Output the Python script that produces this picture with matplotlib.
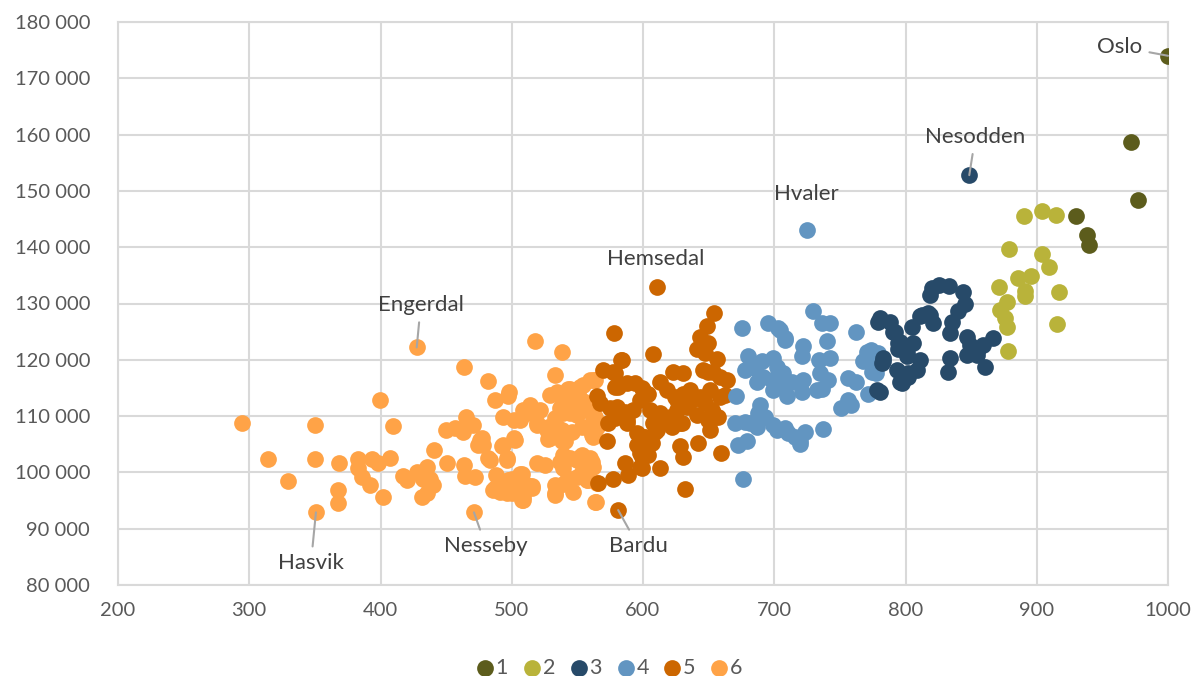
import matplotlib
matplotlib.use("Agg")
import matplotlib.pyplot as plt
from matplotlib.ticker import FuncFormatter, MultipleLocator

plt.rcParams['font.family'] = ['Lato', 'DejaVu Sans']

# group 1 (Oslo first)
x1 = [1000, 971.6, 976.9, 929.7, 938.5, 939.5]
y1 = [174000, 158700, 148400, 145500, 142200, 140400]

# group 2
x2 = [890.4, 903.7, 914.7, 879.2, 904, 909.3, 871.2, 885.6, 895.6, 891, 891, 877.2, 872,
      875.9, 877.5, 916.7, 915.6, 878.2]
y2 = [145500, 146400, 145700, 139650, 138800, 136450, 132950, 134500, 134900, 132300, 131250,
      130300, 128800, 127500, 125750, 132100, 126350, 121600]

# group 3 (Nesodden first)
x3 = [848.6, 820, 825.8, 833.4, 818.7, 844, 845.3, 840.2, 835.1, 833.9, 812.3, 818.7, 821.1,
      804.6, 780.6, 788.2, 792, 795.8, 805.9, 794.5, 800.9, 811, 783.1, 781.8, 793.2, 808.4,
      797, 802, 780.6, 846.6, 849.1, 855.5, 859.3, 866.4, 846.6, 854.2, 860.6, 833.9, 832.6,
      794.4, 800.9, 783.1, 779.3, 778, 811, 817.3, 790.7, 795.8, 802.1]
y3 = [152800, 132700, 133300, 133100, 131500, 132100, 130000, 128600, 126800, 124700, 128000,
      128000, 126500, 125900, 127400, 126800, 125000, 123200, 122900, 122000, 120600, 120000,
      120300, 119400, 118200, 118200, 115800, 117000, 114300, 124100, 122600, 122000, 122600,
      123800, 120900, 120900, 118800, 120300, 117900, 122900, 121200, 119700, 126800, 114600,
      127700, 128300, 125000, 116100, 117600]

# group 4 (Hvaler first)
x4 = [724.6, 675.2, 695.4, 703, 708.2, 729.3, 736.1, 742.5, 739.9, 721.6, 720.8, 762.2, 770.4,
      767.8, 774.2, 771.6, 742.5, 734.3, 734.8, 741.2, 732.3, 736.1, 756.3, 762.6, 756.3, 751.2,
      758.8, 680.2, 677.7, 685.3, 690.4, 699.2, 701.8, 686.6, 691.6, 698, 704.4, 706.8, 699.2,
      709.4, 713.2, 722.1, 720.8, 670.9, 689.1, 687.8, 692.9, 670.1, 677.7, 681.5, 686.6, 699.2,
      701.8, 708.2, 710.7, 715.8, 719.6, 723.4, 737.3, 672.5, 678.9, 719.6, 676.4, 773.7, 772.4,
      778.7, 777.4, 704.4, 708.2]
y4 = [143000, 125600, 126500, 125600, 123600, 128700, 126500, 126500, 123400, 122500, 120600,
      125000, 121400, 119700, 117900, 113900, 120300, 120000, 117600, 116500, 114600, 114900,
      116700, 116100, 112900, 111400, 112000, 120600, 118200, 118500, 119700, 120300, 118800,
      116100, 117000, 116400, 115800, 117600, 114600, 113600, 116100, 116400, 114300, 113600,
      112000, 110500, 109900, 108700, 109000, 108700, 108100, 108400, 107500, 107800, 107000,
      106300, 105500, 107200, 107700, 104900, 105500, 105000, 98800, 121700, 119700, 121200,
      117600, 125300, 123800]

# group 5 (Hemsedal, Bardu first)
x5 = [611, 581.1, 577.9, 607.3, 654.1, 649, 643.4, 649.8, 640.8, 647.1, 656.1, 649.8, 658.7,
      663.8, 623, 630.7, 613, 583.7, 569.7, 577.3, 564.6, 567.2, 578.6, 587.5, 593.9, 600.2,
      604, 597.7, 592.6, 587.5, 578.6, 574.9, 605.3, 613, 607.9, 615.5, 620.6, 625.7, 618,
      624.4, 630.7, 635.8, 637.1, 643.4, 647.2, 651, 653.6, 657.4, 649.8, 651, 633.3, 628.2,
      572.3, 595.2, 595.2, 600.2, 605.3, 610.4, 598.9, 597.7, 586.3, 588.8, 577.4, 613, 628.2,
      630.7, 642.1, 659.1, 632, 565.9, 581.1, 599, 602.7, 579.9, 586.3, 573.6, 587.5, 601.5,
      606.6, 609.2, 597.7, 604, 598.9, 646, 653.6, 658.7, 662.5, 652.3, 654.8, 640.9, 625.6,
      629.4, 621.8, 583, 578.6]
y5 = [133000, 93300, 124800, 121000, 128400, 126000, 124100, 122900, 122000, 121200, 120100,
      117900, 117000, 116400, 117900, 117600, 116100, 120000, 118200, 117900, 113500, 112300,
      115200, 115800, 115800, 114600, 114000, 112900, 111100, 109300, 109600, 111400, 111100,
      110500, 108700, 109300, 109900, 111100, 114600, 113400, 114000, 114600, 112900, 113400,
      112300, 114600, 110500, 109900, 109300, 107500, 111700, 108700, 105500, 107000, 104900,
      106300, 105800, 107500, 102800, 101000, 101600, 99500, 98900, 100700, 104700, 102800,
      105200, 103400, 97000, 98100, 115200, 115000, 114000, 111700, 110800, 108700, 108700,
      106300, 105200, 107200, 103400, 103100, 100700, 118200, 117900, 113400, 113800, 111100,
      109900, 110200, 112900, 108700, 108100, 120000, 117600]

# group 6 (Engerdal, Hasvik, Nesseby first)
x6 = [427.6, 350.8, 471.2, 463.8, 482.1, 498.1, 497.3, 487.2, 399.6, 294.7, 349.9, 409.8, 464.8,
      470.6, 493, 501.7, 449.9, 456.8, 462.6, 477, 474.4, 492.3, 501.7, 314.4, 349.9, 368.5, 383,
      393.2, 398.3, 407.2, 383, 385.6, 391.9, 441, 416.8, 419.9, 427.5, 435.1, 432.6, 437.7,
      440.2, 435.1, 431.3, 450.4, 463.8, 464.3, 472, 482.1, 483.4, 496.1, 488, 329.7, 367.8,
      367.8, 401.6, 485.9, 496.1, 498.7, 503.7, 517.7, 538, 533, 562.1, 554.5, 544.4, 550.7,
      529.1, 534.2, 539.2, 546.9, 554.5, 557, 513.9, 521.5, 511.3, 506.3, 519, 526.6, 527.8,
      533, 534.2, 539.3, 544.4, 549.5, 562.1, 563.4, 562.1, 539.3, 540.6, 475.8, 478.3, 502.5,
      499.9, 506.3, 508.8, 515.2, 508.8, 499.9, 487.2, 491, 519, 525.3, 536.7, 541.8, 549.5,
      553.3, 559.6, 562.1, 558.3, 554.5, 549.5, 544.4, 539.3, 534.2, 533, 557.1, 563.4, 543.1,
      552, 559.6, 563.4, 541.8, 536.7, 549.5, 555.8, 559.6, 563.4, 564.6, 560.8, 550.7, 553.3,
      545.7, 538, 527.8, 493.5, 496.1, 515.2, 508.8, 533, 533, 541.8, 546.9, 539.3, 552, 560.8,
      553.3, 558.4, 564.8, 564.2, 508.8, 513.9, 519, 529.1, 538, 539.2, 544.4, 554.5, 560.8,
      488.4, 497.3, 499.9, 507.5, 507.5, 513.9]
y6 = [122200, 92900, 92900, 118800, 116200, 114300, 113500, 112900, 112900, 108800, 108400,
      108300, 109900, 108400, 109800, 109300, 107500, 107800, 107200, 106100, 104900, 104700,
      106100, 102300, 102300, 101700, 102300, 102300, 101600, 102500, 100700, 99200, 97800,
      104000, 99400, 98700, 100100, 101000, 98900, 98900, 97800, 96300, 95700, 101600, 101300,
      99400, 99200, 102500, 102200, 102500, 99500, 98500, 96900, 94500, 95600, 96900, 96300,
      98700, 97500, 123400, 121300, 117300, 116500, 115500, 114900, 114000, 113800, 114300,
      112600, 112000, 112600, 111100, 112000, 111100, 110500, 109300, 108400, 107500, 106000,
      109600, 108100, 110500, 110500, 110200, 109300, 107500, 106300, 107000, 105500, 105800,
      104900, 105800, 98900, 99800, 98300, 97500, 95700, 96300, 97200, 96600, 101600, 101300,
      101900, 102500, 102200, 103100, 102500, 101000, 100400, 99800, 99200, 98900, 98000, 97500,
      96300, 98700, 94800, 114900, 115200, 116400, 116500, 112600, 111400, 111700, 112000,
      111100, 109900, 108100, 106600, 110500, 108100, 107200, 107500, 108100, 104900, 102200,
      97200, 95100, 97800, 96000, 98700, 96600, 100700, 102800, 101900, 100100, 98700, 98100,
      94800, 111100, 111700, 108700, 106100, 105500, 103100, 102500, 102800, 107000, 96900,
      98700, 96600, 99800, 95100, 97500]

groups = ["1", "2", "3", "4", "5", "6"]
colors = ["#5C5C1C", "#B9B33A", "#274A69", "#6295C1", "#CC6600", "#FFA347"]
xs = [x1, x2, x3, x4, x5, x6]
ys = [y1, y2, y3, y4, y5, y6]

# label, x, y, text offset in pixels, leader line?
labels = [
    ("Oslo", x1[0], y1[0], (-48, 9), True),
    ("Nesodden", x3[0], y3[0], (6, 38), True),
    ("Hvaler", x4[0], y4[0], (0, 36), False),
    ("Hemsedal", x5[0], y5[0], (-2, 28), False),
    ("Engerdal", x6[0], y6[0], (4, 42), True),
    ("Hasvik", x6[1], y6[1], (-5, -51), True),
    ("Nesseby", x6[2], y6[2], (12, -34), True),
    ("Bardu", x5[1], y5[1], (20, -36), True),
]

fig = plt.figure(figsize=(11.95, 6.76), dpi=100)
ax = fig.add_axes([118 / 1195, 1 - 585 / 676, 1050 / 1195, 563 / 676])

handles = []
for i in range(5, -1, -1):
    h = ax.scatter(xs[i], ys[i], s=145, color=colors[i], linewidths=0, zorder=3 + (5 - i),
                   label=groups[i])
    handles.append(h)
handles = handles[::-1]

for name, px, py, off, line in labels:
    ap = None
    if line:
        ap = dict(arrowstyle='-', color='#A6A6A6', lw=1.5, shrinkA=3, shrinkB=0)
    ax.annotate(name, xy=(px, py), xytext=off, textcoords='offset pixels',
                ha='center', va='center', fontsize=16, color='#404040',
                arrowprops=ap, zorder=20)

ax.set_xlim(200, 1000)
ax.set_ylim(80000, 180000)
ax.xaxis.set_major_locator(MultipleLocator(100))
ax.yaxis.set_major_locator(MultipleLocator(10000))
ax.yaxis.set_major_formatter(FuncFormatter(lambda v, p: f"{int(v):,}".replace(",", " ")))
ax.grid(True, color='#D9D9D9', lw=1.5, zorder=0)
ax.set_axisbelow(True)
for s in ax.spines.values():
    s.set_color('#D9D9D9')
    s.set_linewidth(1.5)
ax.tick_params(length=0, labelsize=14.5, labelcolor='#595959')
ax.tick_params(axis='y', pad=20)
ax.tick_params(axis='x', pad=12)

fig.legend(handles=handles, labels=groups, loc='center', bbox_to_anchor=(0.51, 0.012),
           ncol=6, frameon=False, fontsize=15.5, handlelength=0.8, handletextpad=0.1,
           columnspacing=0.7, borderpad=0, labelcolor='#595959')

fig.savefig("out.png", dpi=100)
